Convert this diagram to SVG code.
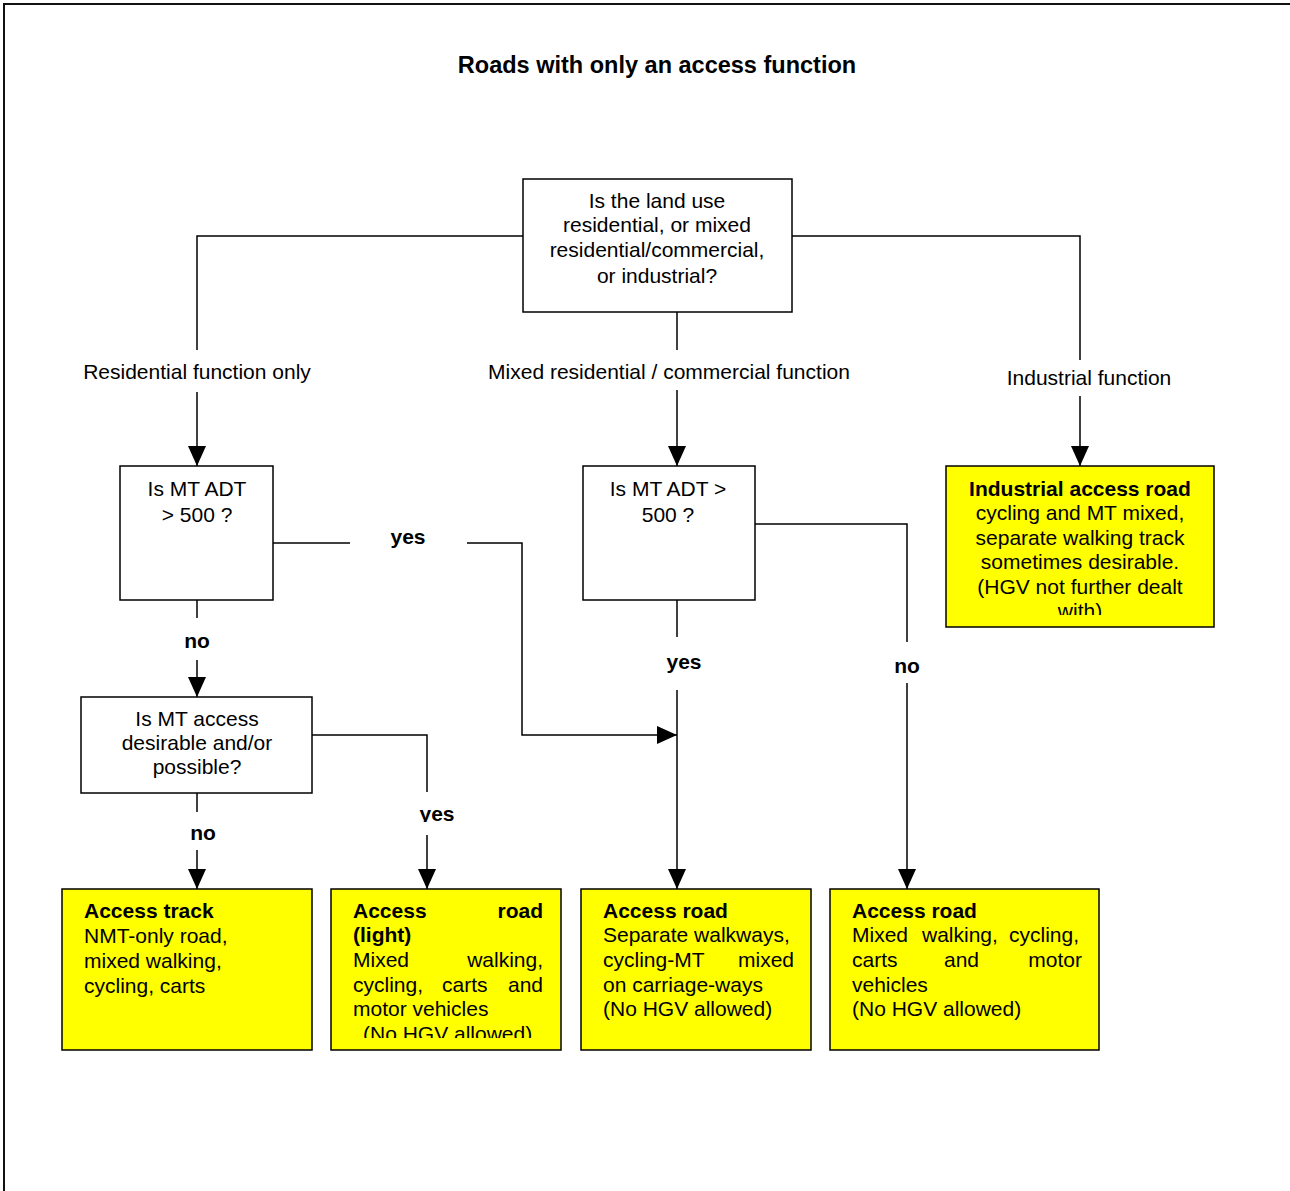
<svg xmlns="http://www.w3.org/2000/svg" width="1290" height="1191" viewBox="0 0 1290 1191">
<style>
  .t{font-family:"Liberation Sans",Arial,sans-serif;font-size:21px;fill:#000}
  .b{font-weight:bold}
  .c{text-anchor:middle}
  .e{text-anchor:end}
  .box{fill:#fff;stroke:#000;stroke-width:1.5}
  .ybox{fill:#ffff00;stroke:#000;stroke-width:1.5}
  .ln{fill:none;stroke:#000;stroke-width:1.5}
</style>
<defs>
  <marker id="ah" markerUnits="userSpaceOnUse" markerWidth="20" markerHeight="18" viewBox="0 0 20 18" refX="20" refY="9" orient="auto">
    <path d="M0,0 L20,9 L0,18 z" fill="#000"/>
  </marker>
  <clipPath id="clipInd"><rect x="946" y="466" width="268" height="149"/></clipPath>
  <clipPath id="clipLight"><rect x="331" y="889" width="230" height="149"/></clipPath>
  <clipPath id="clipYes"><rect x="400" y="795" width="80" height="27"/></clipPath>
</defs>
<rect width="1290" height="1191" fill="#fff"/>
<rect x="4" y="4" width="1400" height="1300" fill="none" stroke="#111" stroke-width="2"/>
<text class="t b c" x="657" y="73" style="font-size:23.5px">Roads with only an access function</text>

<g id="connectors">
  <path class="ln" d="M523,236 H197 V350"/>
  <path class="ln" d="M792,236 H1080 V360"/>
  <path class="ln" d="M677,312 V350"/>
  <path class="ln" d="M197,392 V466" marker-end="url(#ah)"/>
  <path class="ln" d="M677,390 V466" marker-end="url(#ah)"/>
  <path class="ln" d="M1080,396 V466" marker-end="url(#ah)"/>
  <path class="ln" d="M273,543 H350"/>
  <path class="ln" d="M467,543 H522 V735 H677" marker-end="url(#ah)"/>
  <path class="ln" d="M677,600 V637"/>
  <path class="ln" d="M677,690 V889" marker-end="url(#ah)"/>
  <path class="ln" d="M755,524 H907 V642"/>
  <path class="ln" d="M907,683 V889" marker-end="url(#ah)"/>
  <path class="ln" d="M197,600 V618"/>
  <path class="ln" d="M197,660 V697" marker-end="url(#ah)"/>
  <path class="ln" d="M312,735 H427 V792"/>
  <path class="ln" d="M427,835 V889" marker-end="url(#ah)"/>
  <path class="ln" d="M197,793 V812"/>
  <path class="ln" d="M197,850 V889" marker-end="url(#ah)"/>
  <text class="t c" x="197" y="379">Residential function only</text>
  <text class="t c" x="669" y="379">Mixed residential / commercial function</text>
  <text class="t c" x="1089" y="385">Industrial function</text>
  <text class="t b c" x="408" y="544">yes</text>
  <text class="t b c" x="197" y="648">no</text>
  <text class="t b c" x="684" y="669">yes</text>
  <text class="t b c" x="907" y="673">no</text>
  <text class="t b c" x="203" y="840">no</text>
  <text class="t b c" x="437" y="821" clip-path="url(#clipYes)">yes</text>
</g>

<g id="n-landuse">
  <rect class="box" x="523" y="179" width="269" height="133"/>
  <text class="t c" x="657" y="208">Is the land use</text>
  <text class="t c" x="657" y="232">residential, or mixed</text>
  <text class="t c" x="657" y="257">residential/commercial,</text>
  <text class="t c" x="657" y="283">or industrial?</text>
</g>

<g id="n-adt-left">
  <rect class="box" x="120" y="466" width="153" height="134"/>
  <text class="t c" x="197" y="496">Is MT ADT</text>
  <text class="t c" x="197" y="522">&gt; 500 ?</text>
</g>

<g id="n-adt-mid">
  <rect class="box" x="583" y="466" width="172" height="134"/>
  <text class="t c" x="668" y="496">Is MT ADT &gt;</text>
  <text class="t c" x="668" y="522">500 ?</text>
</g>

<g id="n-industrial">
  <rect class="ybox" x="946" y="466" width="268" height="161"/>
  <g clip-path="url(#clipInd)">
    <text class="t b c" x="1080" y="496">Industrial access road</text>
    <text class="t c" x="1080" y="520">cycling and MT mixed,</text>
    <text class="t c" x="1080" y="545">separate walking track</text>
    <text class="t c" x="1080" y="569">sometimes desirable.</text>
    <text class="t c" x="1080" y="594">(HGV not further dealt</text>
    <text class="t c" x="1080" y="618">with)</text>
  </g>
</g>

<g id="n-mtaccess">
  <rect class="box" x="81" y="697" width="231" height="96"/>
  <text class="t c" x="197" y="726">Is MT access</text>
  <text class="t c" x="197" y="750">desirable and/or</text>
  <text class="t c" x="197" y="774">possible?</text>
</g>

<g id="n-track">
  <rect class="ybox" x="62" y="889" width="250" height="161"/>
  <text class="t b" x="84" y="918">Access track</text>
  <text class="t" x="84" y="943">NMT-only road,</text>
  <text class="t" x="84" y="968">mixed walking,</text>
  <text class="t" x="84" y="993">cycling, carts</text>
</g>

<g id="n-light">
  <rect class="ybox" x="331" y="889" width="230" height="161"/>
  <g clip-path="url(#clipLight)">
    <text class="t b" x="353" y="918">Access</text>
    <text class="t b e" x="543" y="918">road</text>
    <text class="t b" x="353" y="942">(light)</text>
    <text class="t" x="353" y="967">Mixed</text>
    <text class="t e" x="543" y="967">walking,</text>
    <text class="t" x="353" y="992">cycling,</text>
    <text class="t" x="442" y="992">carts</text>
    <text class="t e" x="543" y="992">and</text>
    <text class="t" x="353" y="1016">motor vehicles</text>
    <text class="t" x="363" y="1041">(No HGV allowed)</text>
  </g>
</g>

<g id="n-road-sep">
  <rect class="ybox" x="581" y="889" width="230" height="161"/>
  <text class="t b" x="603" y="918">Access road</text>
  <text class="t" x="603" y="942">Separate walkways,</text>
  <text class="t" x="603" y="967">cycling-MT</text>
  <text class="t e" x="794" y="967">mixed</text>
  <text class="t" x="603" y="992">on carriage-ways</text>
  <text class="t" x="603" y="1016">(No HGV allowed)</text>
</g>

<g id="n-road-mixed">
  <rect class="ybox" x="830" y="889" width="269" height="161"/>
  <text class="t b" x="852" y="918">Access road</text>
  <text class="t" x="852" y="942">Mixed</text>
  <text class="t" x="922" y="942">walking,</text>
  <text class="t e" x="1079" y="942">cycling,</text>
  <text class="t" x="852" y="967">carts</text>
  <text class="t" x="944" y="967">and</text>
  <text class="t e" x="1082" y="967">motor</text>
  <text class="t" x="852" y="992">vehicles</text>
  <text class="t" x="852" y="1016">(No HGV allowed)</text>
</g>
</svg>
